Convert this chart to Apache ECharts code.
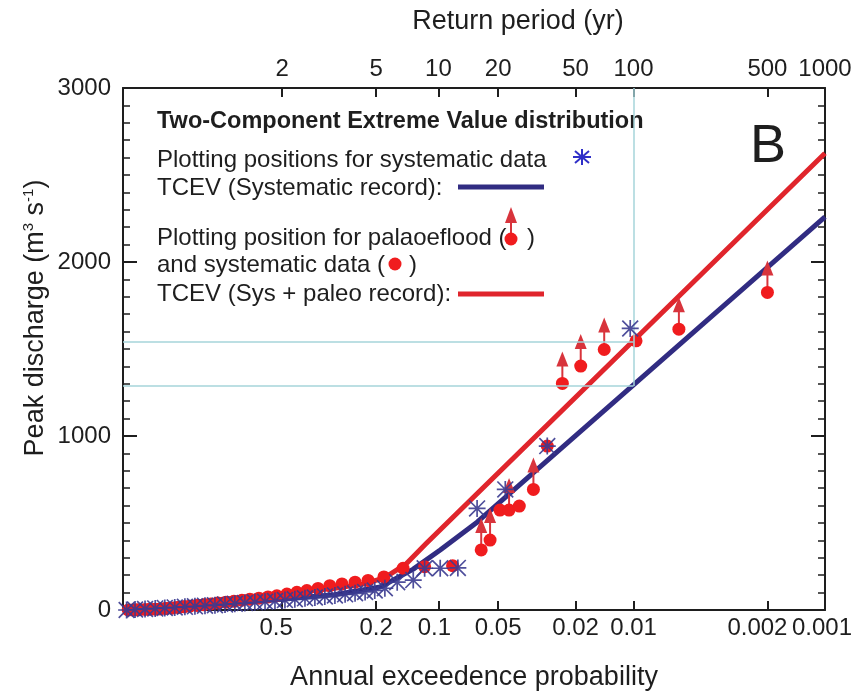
<!DOCTYPE html>
<html>
<head>
<meta charset="utf-8">
<script src="https://cdn.jsdelivr.net/npm/echarts@6.0.0/dist/echarts.min.js"></script>
<style>
  html, body { margin: 0; padding: 0; background: #fff; }
  #chart { width: 861px; height: 693px; }
</style>
</head>
<body>
<div id="chart"></div>
<script>
// axis ticks: annual exceedance probability (bottom) and return period (top)
var probTicks = [0.5, 0.2, 0.1, 0.05, 0.02, 0.01, 0.002, 0.001];
var returnTicks = [2, 5, 10, 20, 50, 100, 500, 1000];
var probMin = 0.991, probMax = 0.001;

// plotting positions for systematic data (blue asterisks)
var sysProb = [0.989, 0.983, 0.973, 0.959, 0.942, 0.920, 0.893, 0.862, 0.827, 0.789,
  0.748, 0.706, 0.662, 0.618, 0.573, 0.530, 0.488, 0.448, 0.409, 0.373,
  0.339, 0.307, 0.277, 0.250, 0.225, 0.203, 0.182, 0.159, 0.133, 0.117,
  0.098, 0.080, 0.064, 0.046, 0.028, 0.0104];
var sysQ = [0, 3, 6, 9, 12, 15, 18, 21, 25, 28,
  32, 36, 40, 44, 48, 52, 57, 62, 67, 72,
  78, 84, 90, 96, 104, 112, 125, 160, 172, 240,
  240, 242, 584, 693, 942, 1618];

// plotting positions for palaeoflood + systematic data (red dots)
var combProb = [0.988, 0.985, 0.982, 0.979, 0.973, 0.967, 0.959, 0.951, 0.940, 0.927,
  0.912, 0.896, 0.878, 0.855, 0.831, 0.805, 0.777, 0.744, 0.710, 0.675,
  0.640, 0.600, 0.560, 0.522, 0.480, 0.440, 0.402, 0.362, 0.323, 0.286,
  0.250, 0.218, 0.184, 0.149, 0.117, 0.085, 0.061, 0.055, 0.049, 0.044,
  0.039, 0.033, 0.028, 0.0234, 0.0188, 0.0142, 0.0097, 0.0058, 0.002];
var combQ = [0, 0, 1, 2, 3, 4, 5, 6, 8, 10,
  14, 18, 22, 26, 30, 35, 40, 45, 50, 56,
  62, 68, 75, 82, 92, 102, 112, 124, 140, 150,
  160, 170, 190, 240, 249, 255, 345, 402, 574, 574,
  597, 693, 942, 1302, 1402, 1497, 1547, 1614, 1825];

// palaeofloods (lower bounds, drawn with an arrow)
var paleoProb = [0.061, 0.055, 0.044, 0.033, 0.0234, 0.0188, 0.0142, 0.0058, 0.002];
var paleoQ = [345, 402, 574, 693, 1302, 1402, 1497, 1614, 1825];

// fitted TCEV curves
var tcevSysProb = [0.990, 0.892, 0.5, 0.308, 0.191, 0.133, 0.098, 0.064, 0.001];
var tcevSysQ = [3, 25, 62, 88, 132, 235, 345, 505, 2259];
var tcevPaleoProb = [0.990, 0.892, 0.5, 0.308, 0.228, 0.183, 0.145, 0.115, 0.001];
var tcevPaleoQ = [8, 40, 95, 125, 150, 185, 262, 382, 2625];

// guide lines at the 1% AEP
var refProb = 0.01;
var refQ = [1288, 1541];

var FONT = '"Liberation Sans", Arial, sans-serif';
var INK = '#1e1e1e';
var BLUE = '#312c82';
var RED = '#e0252c';
var DOT = '#f01c1e';
var ARROW = '#d8343c';
var STAR = '#3b3b90';
var CYAN = '#a6d4da';

// Gumbel reduced variate for an exceedance probability
function gumbel(p) {
  return -Math.log(-Math.log(1 - p));
}
function pts(ps, qs) {
  return ps.map(function (p, i) { return [gumbel(p), qs[i]]; });
}
// label i of a tick list is drawn through rich style "t<i>"
function labelFor(ticks, conv) {
  return function (v) {
    for (var i = 0; i < ticks.length; i++) {
      if (Math.abs(conv(ticks[i]) - v) < 1e-6) return '{t' + i + '|' + ticks[i] + '}';
    }
    return '';
  };
}
function tickRich(shifts) {
  var r = {};
  shifts.forEach(function (s, i) {
    r['t' + i] = { fontSize: 24, fontFamily: FONT, color: INK, padding: [0, s, 0, 0] };
  });
  return r;
}

var xMin = gumbel(probMin), xMax = gumbel(probMax);
var probVals = probTicks.map(gumbel);
var retVals = returnTicks.map(function (t) { return gumbel(1 / t); });
var gRef = gumbel(refProb);

var asterisk = 'path://M9,0L11,0L11,20L9,20Z M0,9L20,9L20,11L0,11Z M0,1.4L1.4,0L20,18.6L18.6,20Z M18.6,0L20,1.4L1.4,20L0,18.6Z';

var chart = echarts.init(document.getElementById('chart'));

var axisLine = { show: true, onZero: false, lineStyle: { color: INK, width: 2 } };

var option = {
  animation: false,
  textStyle: { fontFamily: FONT, color: INK },
  grid: { left: 123, right: 36, top: 88, bottom: 83, containLabel: false, outerBoundsMode: 'none' },
  xAxis: [
    {
      type: 'value', position: 'bottom', min: xMin, max: xMax,
      axisLine: axisLine,
      axisTick: { show: true, inside: true, length: 9, customValues: probVals, lineStyle: { color: INK, width: 2 } },
      axisLabel: {
        customValues: probVals, formatter: labelFor(probTicks, gumbel), hideOverlap: false,
        fontSize: 24, color: INK, margin: 6,
        rich: tickRich([12, 0, 8, 0, 0, 0, 20, 6])
      },
      splitLine: { show: false },
      name: 'Annual exceedence probability', nameLocation: 'middle', nameGap: 54,
      nameTextStyle: { fontSize: 27, color: INK }
    },
    {
      type: 'value', position: 'top', min: xMin, max: xMax,
      axisLine: axisLine,
      axisTick: { show: true, inside: true, length: 9, customValues: retVals, lineStyle: { color: INK, width: 2 } },
      axisLabel: {
        customValues: retVals, formatter: labelFor(returnTicks, function (t) { return gumbel(1 / t); }),
        hideOverlap: false, fontSize: 24, color: INK, margin: 7,
        rich: tickRich([0, 0, 0, 0, 0, 0, 0, 0])
      },
      splitLine: { show: false }
    }
  ],
  yAxis: [
    {
      type: 'value', position: 'left', min: 0, max: 3000, interval: 1000,
      axisLine: axisLine,
      axisTick: { show: true, inside: true, length: 14, lineStyle: { color: INK, width: 2 } },
      minorTick: { show: true, splitNumber: 10, length: 7, lineStyle: { color: INK, width: 1.5 } },
      axisLabel: { fontSize: 24, color: INK, margin: 12, formatter: function (v) { return String(v); } },
      splitLine: { show: false }
    },
    {
      type: 'value', position: 'right', min: 0, max: 3000, interval: 1000,
      axisLine: axisLine,
      axisTick: { show: true, inside: true, length: 14, lineStyle: { color: INK, width: 2 } },
      minorTick: { show: true, splitNumber: 10, length: 7, lineStyle: { color: INK, width: 1.5 } },
      axisLabel: { show: false },
      splitLine: { show: false }
    }
  ],
  series: [
    {
      name: 'guides', type: 'line', data: [], z: 1,
      markLine: {
        silent: true, symbol: 'none', label: { show: false },
        lineStyle: { color: CYAN, width: 1.5, type: 'solid' },
        data: [
          [{ coord: [xMin, refQ[0]] }, { coord: [gRef, refQ[0]] }],
          [{ coord: [xMin, refQ[1]] }, { coord: [gRef, refQ[1]] }],
          [{ coord: [gRef, refQ[0]] }, { coord: [gRef, 3000] }]
        ]
      }
    },
    {
      name: 'TCEV (Systematic record)', type: 'line', z: 2,
      data: pts(tcevSysProb, tcevSysQ), showSymbol: false, smooth: false,
      lineStyle: { color: BLUE, width: 5, join: 'round' }
    },
    {
      name: 'TCEV (Sys + paleo record)', type: 'line', z: 2,
      data: pts(tcevPaleoProb, tcevPaleoQ), showSymbol: false, smooth: false,
      lineStyle: { color: RED, width: 5, join: 'round' }
    },
    {
      name: 'paleo arrows', type: 'custom', z: 3,
      data: pts(paleoProb, paleoQ),
      renderItem: function (params, api) {
        var c = api.coord([api.value(0), api.value(1)]);
        var x = c[0], y = c[1];
        return {
          type: 'group',
          children: [
            { type: 'line', shape: { x1: x, y1: y, x2: x, y2: y - 18 }, style: { stroke: ARROW, lineWidth: 2 } },
            { type: 'polygon', shape: { points: [[x - 6, y - 17], [x + 6, y - 17], [x, y - 32]] }, style: { fill: ARROW } }
          ]
        };
      }
    },
    {
      name: 'palaeoflood and systematic data', type: 'scatter', z: 4,
      data: pts(combProb, combQ), symbol: 'circle', symbolSize: 13,
      itemStyle: { color: DOT, opacity: 1 }
    },
    {
      name: 'systematic data', type: 'scatter', z: 5,
      data: pts(sysProb, sysQ), symbol: asterisk, symbolSize: 17,
      itemStyle: { color: STAR, opacity: 0.9 }
    }
  ],
  graphic: [
    {
      type: 'text', x: 518, y: 22,
      style: { text: 'Return period (yr)', font: '27px ' + FONT, fill: INK, align: 'center', verticalAlign: 'middle' }
    },
    {
      type: 'text', x: 36, y: 318, rotation: Math.PI / 2,
      style: {
        text: '{n|Peak discharge (m}{s|3}{n| s}{s|-1}{n|)}',
        align: 'center', verticalAlign: 'middle',
        rich: {
          n: { fontSize: 27, fontFamily: FONT, fill: INK, lineHeight: 30 },
          s: { fontSize: 15, fontFamily: FONT, fill: INK, lineHeight: 15, verticalAlign: 'top' }
        }
      }
    },
    {
      type: 'text', x: 768, y: 147,
      style: { text: 'B', font: '54px ' + FONT, fill: INK, align: 'center', verticalAlign: 'middle' }
    },
    {
      type: 'group', z: 10,
      children: [
        { type: 'text', x: 157, y: 122, style: { text: 'Two-Component Extreme Value distribution', font: 'bold 23.5px ' + FONT, fill: INK, verticalAlign: 'middle' } },
        { type: 'text', x: 157, y: 160, style: { text: 'Plotting positions for systematic data', font: '24px ' + FONT, fill: INK, verticalAlign: 'middle' } },
        {
          type: 'group', x: 582, y: 157,
          children: [
            { type: 'line', shape: { x1: -9, y1: 0, x2: 9, y2: 0 }, style: { stroke: '#2f2fc8', lineWidth: 2 } },
            { type: 'line', shape: { x1: 0, y1: -8, x2: 0, y2: 8 }, style: { stroke: '#2f2fc8', lineWidth: 2 } },
            { type: 'line', shape: { x1: -7, y1: -6, x2: 7, y2: 6 }, style: { stroke: '#2f2fc8', lineWidth: 2 } },
            { type: 'line', shape: { x1: -7, y1: 6, x2: 7, y2: -6 }, style: { stroke: '#2f2fc8', lineWidth: 2 } }
          ]
        },
        { type: 'text', x: 157, y: 188, style: { text: 'TCEV (Systematic record):', font: '24px ' + FONT, fill: INK, verticalAlign: 'middle' } },
        { type: 'line', shape: { x1: 458, y1: 187, x2: 544, y2: 187 }, style: { stroke: BLUE, lineWidth: 5 } },
        { type: 'text', x: 157, y: 238, style: { text: 'Plotting position for palaoeflood (', font: '24px ' + FONT, fill: INK, verticalAlign: 'middle' } },
        { type: 'text', x: 527, y: 238, style: { text: ')', font: '24px ' + FONT, fill: INK, verticalAlign: 'middle' } },
        { type: 'line', shape: { x1: 511, y1: 239, x2: 511, y2: 222 }, style: { stroke: ARROW, lineWidth: 2 } },
        { type: 'polygon', shape: { points: [[505, 223], [517, 223], [511, 207]] }, style: { fill: ARROW } },
        { type: 'circle', shape: { cx: 511, cy: 239, r: 6.5 }, style: { fill: DOT } },
        { type: 'text', x: 157, y: 265, style: { text: 'and systematic data (', font: '24px ' + FONT, fill: INK, verticalAlign: 'middle' } },
        { type: 'circle', shape: { cx: 395, cy: 264, r: 6.5 }, style: { fill: DOT } },
        { type: 'text', x: 409, y: 265, style: { text: ')', font: '24px ' + FONT, fill: INK, verticalAlign: 'middle' } },
        { type: 'text', x: 157, y: 294, style: { text: 'TCEV (Sys + paleo record):', font: '24px ' + FONT, fill: INK, verticalAlign: 'middle' } },
        { type: 'line', shape: { x1: 458, y1: 294, x2: 544, y2: 294 }, style: { stroke: RED, lineWidth: 5 } }
      ]
    }
  ]
};

chart.setOption(option);
</script>
</body>
</html>
